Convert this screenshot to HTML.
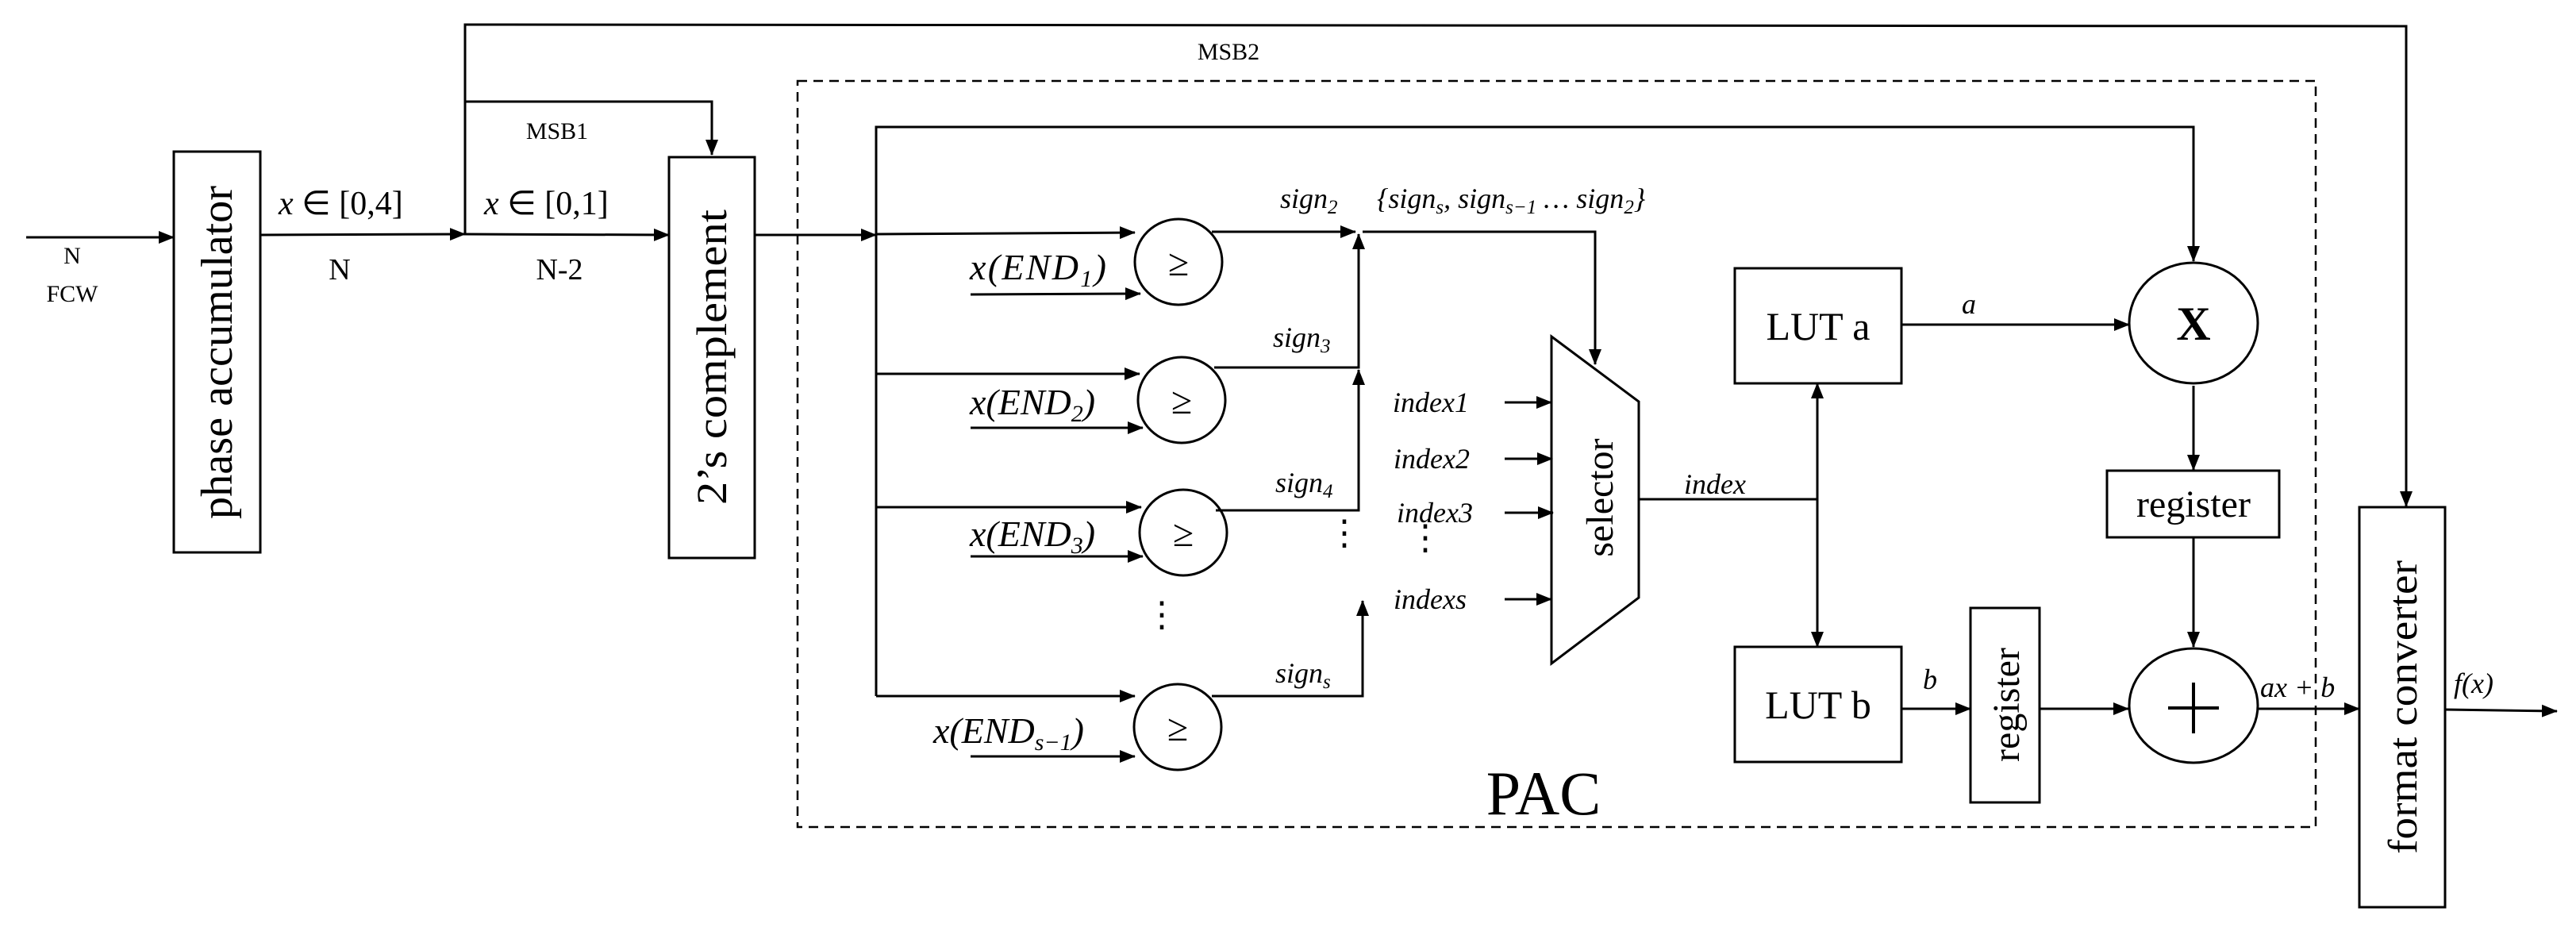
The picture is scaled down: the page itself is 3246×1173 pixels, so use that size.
<!DOCTYPE html>
<html><head><meta charset="utf-8"><style>
html,body{margin:0;padding:0;background:#fff}
svg{display:block}
text{font-family:"Liberation Serif",serif;fill:#000}
.i{font-style:italic}
</style></head><body>
<svg width="3246" height="1173" viewBox="0 0 3246 1173" xmlns="http://www.w3.org/2000/svg">
<defs>
<marker id="a" markerWidth="20" markerHeight="16" refX="19" refY="8" orient="auto" markerUnits="userSpaceOnUse">
<path d="M0,0 L20,8 L0,16 Z" fill="#000"/></marker>
</defs>
<g stroke="#000" stroke-width="3" fill="none">
<rect x="1005" y="102" width="1913" height="940" stroke-dasharray="12,8" stroke-width="2.5"/>
<line x1="33" y1="299" x2="219" y2="299" marker-end="url(#a)"/>
<rect x="219" y="191" width="109" height="505"/>
<line x1="328" y1="296" x2="586" y2="295" marker-end="url(#a)"/>
<polyline points="586,295 586,31 3032,33 3032,638" marker-end="url(#a)"/>
<polyline points="586,128 897,128 897,195" marker-end="url(#a)"/>
<line x1="586" y1="295" x2="843" y2="296" marker-end="url(#a)"/>
<rect x="843" y="198" width="108" height="505"/>
<line x1="951" y1="296" x2="1104" y2="296" marker-end="url(#a)"/>
<polyline points="1104,877 1104,160 2764,160 2764,329" marker-end="url(#a)"/>
<line x1="1104" y1="295" x2="1430" y2="293" marker-end="url(#a)"/>
<line x1="1223" y1="371" x2="1437" y2="370" marker-end="url(#a)"/>
<ellipse cx="1485" cy="330" rx="55" ry="54"/>
<line x1="1104" y1="471" x2="1436" y2="471" marker-end="url(#a)"/>
<line x1="1223" y1="539" x2="1440" y2="539" marker-end="url(#a)"/>
<ellipse cx="1489" cy="504" rx="55" ry="54"/>
<line x1="1104" y1="639" x2="1438" y2="639" marker-end="url(#a)"/>
<line x1="1223" y1="701" x2="1440" y2="701" marker-end="url(#a)"/>
<ellipse cx="1491" cy="671" rx="55" ry="54"/>
<line x1="1104" y1="877" x2="1430" y2="877" marker-end="url(#a)"/>
<line x1="1223" y1="953" x2="1430" y2="953" marker-end="url(#a)"/>
<ellipse cx="1484" cy="916" rx="55" ry="54"/>
<line x1="1527" y1="292" x2="1708" y2="292" marker-end="url(#a)"/>
<polyline points="1530,463 1712,463 1712,295" marker-end="url(#a)"/>
<polyline points="1532,643 1712,643 1712,466" marker-end="url(#a)"/>
<polyline points="1527,877 1717,877 1717,757" marker-end="url(#a)"/>
<polyline points="1717,292 2010,292 2010,459" marker-end="url(#a)"/>
<polygon points="1955,424 2065,506 2065,753 1955,836"/>
<line x1="1896" y1="507" x2="1955" y2="507" marker-end="url(#a)"/>
<line x1="1896" y1="578" x2="1956" y2="578" marker-end="url(#a)"/>
<line x1="1896" y1="646" x2="1957" y2="646" marker-end="url(#a)"/>
<line x1="1896" y1="755" x2="1955" y2="755" marker-end="url(#a)"/>
<line x1="2065" y1="629" x2="2290" y2="629"/>
<line x1="2290" y1="629" x2="2290" y2="483" marker-end="url(#a)"/>
<line x1="2290" y1="629" x2="2290" y2="815" marker-end="url(#a)"/>
<rect x="2186" y="338" width="210" height="145"/>
<rect x="2186" y="815" width="210" height="145"/>
<line x1="2396" y1="409" x2="2683" y2="409" marker-end="url(#a)"/>
<ellipse cx="2764" cy="407" rx="81" ry="76"/>
<line x1="2764" y1="486" x2="2764" y2="592" marker-end="url(#a)"/>
<rect x="2655" y="593" width="217" height="84"/>
<line x1="2764" y1="677" x2="2764" y2="815" marker-end="url(#a)"/>
<ellipse cx="2764" cy="889" rx="81" ry="72"/>
<line x1="2396" y1="893" x2="2483" y2="893" marker-end="url(#a)"/>
<rect x="2483" y="766" width="87" height="245"/>
<line x1="2570" y1="893" x2="2682" y2="893" marker-end="url(#a)"/>
<line x1="2845" y1="893" x2="2973" y2="893" marker-end="url(#a)"/>
<rect x="2973" y="639" width="108" height="504"/>
<line x1="3081" y1="894" x2="3222" y2="896" marker-end="url(#a)"/>
<line x1="2764" y1="860" x2="2764" y2="924" stroke-width="4"/>
<line x1="2732" y1="892" x2="2796" y2="892" stroke-width="4"/>
</g>
<g>
<text x="91" y="332" font-size="30" text-anchor="middle">N</text>
<text x="91" y="380" font-size="30" text-anchor="middle">FCW</text>
<text transform="translate(292,444) rotate(-90)" font-size="56" text-anchor="middle" textLength="420" lengthAdjust="spacingAndGlyphs">phase accumulator</text>
<text x="351" y="270" font-size="42"><tspan class="i">x</tspan> ∈ [0,4]</text>
<text x="428" y="352" font-size="38" text-anchor="middle">N</text>
<text x="610" y="270" font-size="42"><tspan class="i">x</tspan> ∈ [0,1]</text>
<text x="705" y="352" font-size="38" text-anchor="middle">N-2</text>
<text x="702" y="175" font-size="30" text-anchor="middle">MSB1</text>
<text x="1548" y="75" font-size="30" text-anchor="middle">MSB2</text>
<text transform="translate(915,450) rotate(-90)" font-size="54" text-anchor="middle" textLength="372" lengthAdjust="spacingAndGlyphs">2’s complement</text>
<g font-size="48" text-anchor="middle">
<text x="1485" y="347">≥</text>
<text x="1489" y="521">≥</text>
<text x="1491" y="688">≥</text>
<text x="1484" y="933">≥</text>
</g>
<g font-size="46" class="i">
<text x="1222" y="352" textLength="172"><tspan>x(END</tspan><tspan font-size="30" dy="9">1</tspan><tspan dy="-9">)</tspan></text>
<text x="1222" y="522"><tspan>x(END</tspan><tspan font-size="30" dy="9">2</tspan><tspan dy="-9">)</tspan></text>
<text x="1222" y="688"><tspan>x(END</tspan><tspan font-size="30" dy="9">3</tspan><tspan dy="-9">)</tspan></text>
<text x="1176" y="936"><tspan>x(END</tspan><tspan font-size="30" dy="9">s−1</tspan><tspan dy="-9">)</tspan></text>
</g>
<g font-size="36" class="i">
<text x="1613" y="262">sign<tspan font-size="25" dy="7">2</tspan></text>
<text x="1604" y="437">sign<tspan font-size="25" dy="7">3</tspan></text>
<text x="1607" y="620">sign<tspan font-size="25" dy="7">4</tspan></text>
<text x="1607" y="860">sign<tspan font-size="25" dy="7">s</tspan></text>
<text x="1735" y="262">{sign<tspan font-size="25" dy="7">s</tspan><tspan dy="-7">, sign</tspan><tspan font-size="25" dy="7">s−1</tspan><tspan dy="-7"> … sign</tspan><tspan font-size="25" dy="7">2</tspan><tspan dy="-7">}</tspan></text>
<text x="1755" y="519">index1</text>
<text x="1756" y="590">index2</text>
<text x="1760" y="658">index3</text>
<text x="1756" y="767">indexs</text>
<text x="2122" y="622">index</text>
<text x="2472" y="395">a</text>
<text x="2423" y="868">b</text>
<text x="2848" y="878">ax + b</text>
<text x="3092" y="873">f(x)</text>
</g>
<g font-size="44">
<text x="1694" y="686" text-anchor="middle">⋮</text>
<text x="1796" y="692" text-anchor="middle">⋮</text>
<text x="1464" y="789" text-anchor="middle">⋮</text>
</g>
<text transform="translate(2032,627) rotate(-90)" font-size="48" text-anchor="middle">selector</text>
<text x="2291" y="428" font-size="50" text-anchor="middle">LUT a</text>
<text x="2291" y="905" font-size="50" text-anchor="middle">LUT b</text>
<text x="2764" y="428" font-size="60" font-weight="bold" text-anchor="middle">X</text>
<text x="2764" y="651" font-size="48" text-anchor="middle">register</text>
<text transform="translate(2544,888) rotate(-90)" font-size="48" text-anchor="middle">register</text>
<text transform="translate(3045,891) rotate(-90)" font-size="52" text-anchor="middle" textLength="370" lengthAdjust="spacingAndGlyphs">format converter</text>
<text x="1945" y="1026" font-size="78" text-anchor="middle">PAC</text>
</g>
</svg>
</body></html>
